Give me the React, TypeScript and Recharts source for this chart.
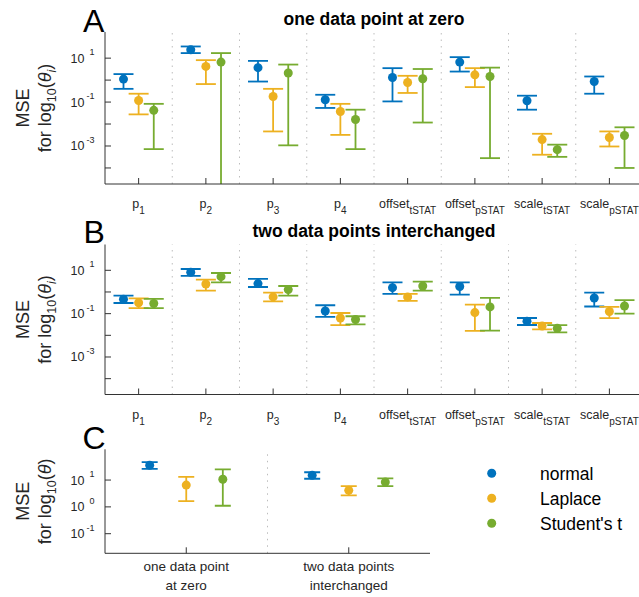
import React from "react";
import {
  ComposedChart,
  Scatter,
  ErrorBar,
  XAxis,
  YAxis,
  ReferenceLine,
  Legend,
} from "recharts";

const seriesNames = ["normal", "Laplace", "Student's t"];
const seriesColors = ["#0072BD", "#EDB120", "#77AC30"];

const paramBase = ["p", "p", "p", "p", "offset", "offset", "scale", "scale"];
const paramSub = ["1", "2", "3", "4", "tSTAT", "pSTAT", "tSTAT", "pSTAT"];
const paramTicks = [1, 2, 3, 4, 5, 6, 7, 8];
const paramSeparators = [1.5, 2.5, 3.5, 4.5, 5.5, 6.5, 7.5];

const scenarioLines = [
  ["one data point", "at zero"],
  ["two data points", "interchanged"],
];
const scenarioTicks = [1, 2];

const yTicksAB = [1e-4, 1e-3, 1e-2, 1e-1, 1, 10];
const yLabeledAB = [1e-3, 1e-1, 10];
const yDomainAB = [1.86e-5, 155];
const yTicksC = [0.1, 1, 10];
const yDomainC = [0.0186, 140];

// A: one data point at zero
const aNormalMid = [1.11, 24, 3.7, 0.127, 1.31, 6.6, 0.115, 0.86];
const aNormalLow = [0.4, 17, 0.86, 0.054, 0.107, 2.45, 0.045, 0.24];
const aNormalHigh = [1.88, 34, 7.5, 0.215, 3.5, 11.1, 0.195, 1.46];
const aLaplaceMid = [0.118, 4.2, 0.18, 0.037, 0.78, 1.74, 0.00195, 0.00245];
const aLaplaceLow = [0.0275, 0.66, 0.0046, 0.0032, 0.26, 0.48, 0.0004, 0.00095];
const aLaplaceHigh = [0.24, 8.1, 0.4, 0.083, 1.57, 3.5, 0.0036, 0.0046];
const aStudentMid = [0.042, 6.6, 2.1, 0.016, 1.15, 1.46, 0.00068, 0.003];
const aStudentLow = [0.00072, 1e-6, 0.00107, 0.00072, 0.0117, 0.00028, 0.00032, 0.0001];
const aStudentHigh = [0.083, 17, 5.1, 0.045, 3.2, 3.7, 0.00115, 0.0071];

// B: two data points interchanged
const bNormalMid = [0.46, 8.1, 2.44, 0.133, 1.58, 1.78, 0.045, 0.53];
const bNormalLow = [0.31, 5.5, 1.7, 0.071, 0.81, 0.76, 0.03, 0.214];
const bNormalHigh = [0.68, 11.5, 4.0, 0.244, 2.8, 2.8, 0.063, 0.93];
const bLaplaceMid = [0.32, 2.34, 0.59, 0.063, 0.59, 0.112, 0.027, 0.126];
const bLaplaceLow = [0.178, 1.16, 0.37, 0.0295, 0.39, 0.016, 0.019, 0.062];
const bLaplaceHigh = [0.51, 3.7, 0.93, 0.107, 0.81, 0.263, 0.037, 0.204];
const bStudentMid = [0.295, 5.1, 1.29, 0.054, 1.89, 0.204, 0.021, 0.226];
const bStudentLow = [0.18, 2.8, 0.68, 0.032, 1.16, 0.0166, 0.0138, 0.1];
const bStudentHigh = [0.48, 7.5, 1.89, 0.076, 3.0, 0.53, 0.0295, 0.417];

// C: MSE for log10(theta)
const cNormalMid = [35.5, 15];
const cNormalLow = [26.3, 11.2];
const cNormalHigh = [46.8, 19.5];
const cLaplaceMid = [6.5, 4.13];
const cLaplaceLow = [1.64, 2.7];
const cLaplaceHigh = [13.2, 5.97];
const cStudentMid = [10.7, 8.4];
const cStudentLow = [1.1, 5.97];
const cStudentHigh = [25.1, 11.5];

const dodge = [-0.225, 0, 0.225];

interface Row {
  x: number;
  y: number;
  err: [number, number];
}

function buildRows(mid: number[], low: number[], high: number[], k: number): Row[] {
  return mid.map((m, i) => ({
    x: i + 1 + dodge[k],
    y: m,
    err: [m - low[i], high[i] - m],
  }));
}

const panelA = [
  buildRows(aNormalMid, aNormalLow, aNormalHigh, 0),
  buildRows(aLaplaceMid, aLaplaceLow, aLaplaceHigh, 1),
  buildRows(aStudentMid, aStudentLow, aStudentHigh, 2),
];
const panelB = [
  buildRows(bNormalMid, bNormalLow, bNormalHigh, 0),
  buildRows(bLaplaceMid, bLaplaceLow, bLaplaceHigh, 1),
  buildRows(bStudentMid, bStudentLow, bStudentHigh, 2),
];
const panelC = [
  buildRows(cNormalMid, cNormalLow, cNormalHigh, 0),
  buildRows(cLaplaceMid, cLaplaceLow, cLaplaceHigh, 1),
  buildRows(cStudentMid, cStudentLow, cStudentHigh, 2),
];

const FONT = "'Liberation Sans', Arial, Helvetica, sans-serif";
const INK = "#262626";
const AXIS = "#333333";
const PLOT_LEFT = 105;
const Y_AXIS_W = 50;
const X_AXIS_H = 40;
const TICK = 6;

const NoTick = () => null;

const makeYTick = (labeled: number[]) => (props: any) => {
  const { x, y, payload } = props;
  const v = payload.value;
  if (!labeled.some((l) => Math.abs(l - v) / l < 1e-6)) return null;
  const e = Math.round(Math.log10(v));
  return (
    <g>
      <text x={x - 20.5} y={y + 4.5} textAnchor="end" fontSize={12.5} fill={INK}>
        10
      </text>
      <text x={x - 10.5} y={y - 2.8} textAnchor="end" fontSize={9} fill={INK}>
        {e}
      </text>
    </g>
  );
};

const ParamTick = (props: any) => {
  const { x, y, payload } = props;
  const i = Math.round(payload.value) - 1;
  return (
    <text x={x} y={y + 24} textAnchor="middle" fontSize={12.5} fill={INK}>
      {paramBase[i]}
      <tspan dy={6} fontSize={10}>
        {paramSub[i]}
      </tspan>
    </text>
  );
};

const ScenarioTick = (props: any) => {
  const { x, y, payload } = props;
  const lines = scenarioLines[Math.round(payload.value) - 1];
  return (
    <g>
      <text x={x} y={y + 18} textAnchor="middle" fontSize={13.5} fill={INK}>
        {lines[0]}
      </text>
      <text x={x} y={y + 37} textAnchor="middle" fontSize={13.5} fill={INK}>
        {lines[1]}
      </text>
    </g>
  );
};

const LegendBox = (props: any) => {
  const payload = [...(props.payload ?? [])].sort(
    (a: any, b: any) => seriesNames.indexOf(a.value) - seriesNames.indexOf(b.value)
  );
  return (
    <svg width={150} height={80} style={{ overflow: "visible" }}>
      {payload.map((entry: any, i: number) => (
        <g key={entry.value}>
          <circle cx={11.7} cy={13.3 + i * 25} r={4.5} fill={entry.color ?? seriesColors[i]} />
          <text x={60} y={19.5 + i * 25} fontSize={17.5} fill="#000" fontFamily={FONT}>
            {entry.value}
          </text>
        </g>
      ))}
    </svg>
  );
};

interface PanelProps {
  id: string;
  top: number;
  height: number;
  width: number;
  plotTop: number;
  plotBottom: number;
  plotRight: number;
  xTicks: number[];
  separators: number[];
  yDomain: number[];
  yTicks: number[];
  yLabeled: number[];
  rows: Row[][];
  xTick: any;
  capHalf: number;
  legend?: boolean;
}

const Panel: React.FC<PanelProps> = ({
  id,
  top,
  height,
  width,
  plotTop,
  plotBottom,
  plotRight,
  xTicks,
  separators,
  yDomain,
  yTicks,
  yLabeled,
  rows,
  xTick,
  capHalf,
  legend,
}) => {
  const xDomain = [0.5, xTicks.length + 0.5];
  const margin = {
    top: plotTop - top,
    left: PLOT_LEFT - Y_AXIS_W,
    right: width - plotRight,
    bottom: top + height - plotBottom - X_AXIS_H,
  };
  return (
    <div className={`panel-${id}`} style={{ position: "absolute", left: 0, top }}>
      {/* error bars that run past the axis are cut at the plot box, as in the original */}
      <svg width={0} height={0} style={{ position: "absolute" }}>
        <defs>
          <clipPath id={`clip-${id}`} clipPathUnits="userSpaceOnUse">
            <rect
              x={PLOT_LEFT}
              y={margin.top}
              width={plotRight - PLOT_LEFT}
              height={plotBottom - plotTop}
            />
          </clipPath>
        </defs>
      </svg>
      <style>{`.panel-${id} .recharts-errorBar { clip-path: url(#clip-${id}); }`}</style>
      <ComposedChart width={width} height={height} margin={margin}>
        <XAxis
          dataKey="x"
          type="number"
          domain={xDomain}
          ticks={xTicks}
          interval={0}
          allowDataOverflow
          height={X_AXIS_H}
          tickSize={-TICK}
          tickMargin={TICK}
          tick={xTick}
          stroke={AXIS}
          tickLine={{ stroke: AXIS }}
        />
        <XAxis
          xAxisId="top"
          orientation="top"
          type="number"
          domain={xDomain}
          ticks={xTicks}
          interval={0}
          allowDataOverflow
          height={0}
          tickSize={-TICK}
          tick={NoTick}
          stroke={AXIS}
          tickLine={{ stroke: AXIS }}
        />
        <YAxis
          dataKey="y"
          type="number"
          scale="log"
          domain={yDomain}
          ticks={yTicks}
          interval={0}
          allowDataOverflow
          width={Y_AXIS_W}
          tickSize={-TICK}
          tickMargin={TICK}
          tick={makeYTick(yLabeled)}
          stroke={AXIS}
          tickLine={{ stroke: AXIS }}
        />
        <YAxis
          yAxisId="right"
          orientation="right"
          type="number"
          scale="log"
          domain={yDomain}
          ticks={yTicks}
          interval={0}
          allowDataOverflow
          width={0}
          tickSize={-TICK}
          tick={NoTick}
          stroke={AXIS}
          tickLine={{ stroke: AXIS }}
        />
        {separators.map((s) => (
          <ReferenceLine
            key={s}
            x={s}
            stroke="#bdbdbd"
            strokeDasharray="1.5 5"
            strokeWidth={1}
          />
        ))}
        {rows.map((data, k) => (
          <Scatter
            key={seriesNames[k]}
            name={seriesNames[k]}
            data={data}
            dataKey="y"
            fill={seriesColors[k]}
            isAnimationActive={false}
            shape={(p: any) => (
              <circle cx={p.cx} cy={p.cy} r={4.5} fill={seriesColors[k]} />
            )}
          >
            <ErrorBar
              dataKey="err"
              direction="y"
              width={capHalf}
              stroke={seriesColors[k]}
              strokeWidth={1.8}
              isAnimationActive={false}
            />
          </Scatter>
        ))}
        {legend && (
          <Legend
            layout="horizontal"
            verticalAlign="middle"
            align="center"
            wrapperStyle={{ left: 480, top: 25, width: 150, height: 80 }}
            content={LegendBox}
          />
        )}
      </ComposedChart>
    </div>
  );
};

const YLabel: React.FC<{ cy: number; sub?: string }> = ({ cy, sub }) => (
  <g fill={INK} fontSize={18}>
    <text transform={`translate(28.5, ${cy}) rotate(-90)`} textAnchor="middle">
      MSE
    </text>
    <text transform={`translate(51, ${cy}) rotate(-90)`} textAnchor="middle">
      for log
      <tspan dy={5} fontSize={12.5}>
        10
      </tspan>
      <tspan dy={-5}>(</tspan>
      <tspan fontStyle="italic">θ</tspan>
      {sub && (
        <tspan dy={5} fontSize={12.5} fontStyle="italic">
          {sub}
        </tspan>
      )}
      <tspan dy={sub ? -5 : 0}>)</tspan>
    </text>
  </g>
);

export default function App() {
  return (
    <div
      style={{
        position: "absolute",
        left: 0,
        top: 0,
        width: 639,
        height: 597,
        overflow: "hidden",
        background: "#fff",
        fontFamily: FONT,
      }}
    >
      <Panel
        id="a"
        top={0}
        height={225}
        width={660}
        plotTop={32}
        plotBottom={184}
        plotRight={643}
        xTicks={paramTicks}
        separators={paramSeparators}
        yDomain={yDomainAB}
        yTicks={yTicksAB}
        yLabeled={yLabeledAB}
        rows={panelA}
        xTick={ParamTick}
        capHalf={10}
      />
      <Panel
        id="b"
        top={222}
        height={215}
        width={660}
        plotTop={244.5}
        plotBottom={394.5}
        plotRight={643}
        xTicks={paramTicks}
        separators={paramSeparators}
        yDomain={yDomainAB}
        yTicks={yTicksAB}
        yLabeled={yLabeledAB}
        rows={panelB}
        xTick={ParamTick}
        capHalf={10}
      />
      <Panel
        id="c"
        top={435}
        height={162}
        width={639}
        plotTop={449.3}
        plotBottom={553.3}
        plotRight={430}
        xTicks={scenarioTicks}
        separators={[1.5]}
        yDomain={yDomainC}
        yTicks={yTicksC}
        yLabeled={yTicksC}
        rows={panelC}
        xTick={ScenarioTick}
        capHalf={8}
        legend
      />
      <svg
        width={639}
        height={597}
        style={{ position: "absolute", left: 0, top: 0, pointerEvents: "none" }}
        fontFamily={FONT}
      >
        <text x={83} y={31.5} fontSize={32} fill="#000">A</text>
        <text x={83.5} y={242.5} fontSize={32} fill="#000">B</text>
        <text x={82.5} y={448.8} fontSize={32} fill="#000">C</text>
        <text x={374} y={24.7} textAnchor="middle" fontSize={17.5} fontWeight="bold" fill="#000">
          one data point at zero
        </text>
        <text x={374} y={237.2} textAnchor="middle" fontSize={17.5} fontWeight="bold" fill="#000">
          two data points interchanged
        </text>
        <YLabel cy={108} sub="i" />
        <YLabel cy={319.5} sub="i" />
        <YLabel cy={501.3} />
      </svg>
    </div>
  );
}
